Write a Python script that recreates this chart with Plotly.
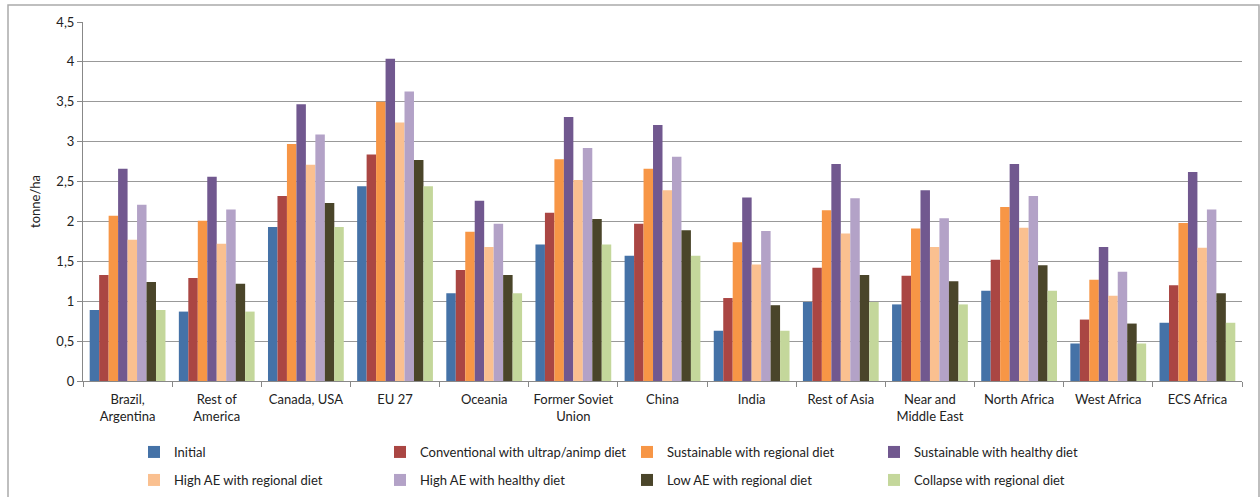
import plotly.graph_objects as go

regions = ["Brazil,<br>Argentina", "Rest of<br>America", "Canada, USA", "EU 27", "Oceania",
           "Former Soviet<br>Union", "China", "India", "Rest of Asia", "Near and<br>Middle East",
           "North Africa", "West Africa", "ECS Africa"]

initial =        [0.89, 0.87, 1.93, 2.44, 1.10, 1.71, 1.57, 0.63, 0.99, 0.96, 1.13, 0.47, 0.73]
conventional =   [1.33, 1.29, 2.32, 2.84, 1.39, 2.11, 1.97, 1.04, 1.42, 1.32, 1.52, 0.77, 1.20]
sust_regional =  [2.07, 2.01, 2.97, 3.50, 1.87, 2.78, 2.66, 1.74, 2.14, 1.91, 2.18, 1.27, 1.98]
sust_healthy =   [2.66, 2.56, 3.47, 4.04, 2.26, 3.31, 3.21, 2.30, 2.72, 2.39, 2.72, 1.68, 2.62]
highae_regional = [1.77, 1.72, 2.71, 3.24, 1.68, 2.52, 2.39, 1.46, 1.85, 1.68, 1.92, 1.07, 1.67]
highae_healthy = [2.21, 2.15, 3.09, 3.63, 1.97, 2.92, 2.81, 1.88, 2.29, 2.04, 2.32, 1.37, 2.15]
lowae_regional = [1.24, 1.22, 2.23, 2.77, 1.33, 2.03, 1.89, 0.95, 1.33, 1.25, 1.45, 0.72, 1.10]
collapse =       [0.89, 0.87, 1.93, 2.44, 1.10, 1.71, 1.57, 0.63, 0.99, 0.96, 1.13, 0.47, 0.73]

series_names = ["Initial", "Conventional with ultrap/animp diet", "Sustainable with regional diet",
                "Sustainable with healthy diet", "High AE with regional diet", "High AE with healthy diet",
                "Low AE with regional diet", "Collapse with regional diet"]
series_values = [initial, conventional, sust_regional, sust_healthy,
                 highae_regional, highae_healthy, lowae_regional, collapse]
colors = ["#4572A7", "#AA4643", "#F79646", "#71588F", "#FAC090", "#B3A2C7", "#4A452A", "#C4D79B"]

W, H = 1260, 497
ML, MR, MT, MB = 83, 18, 22, 116
pw, ph = W - ML - MR, H - MT - MB

def px_x(p):
    return (p - ML) / pw

def px_y(p):
    return (H - MB - p) / ph

font = "Lato, 'Open Sans', sans-serif"

# legend slot positions (pixel) : 4 columns x 2 rows
leg_cols = [134, 380, 627, 874]
leg_rows = [452, 480]

fig = go.Figure()
layout_legends = {}
for i, (name, vals, col) in enumerate(zip(series_names, series_values, colors)):
    lname = "legend" if i == 0 else f"legend{i+1}"
    fig.add_trace(go.Bar(x=regions, y=vals, name=name, marker=dict(color=col, line=dict(width=0)),
                         legend=lname))
    layout_legends[lname] = dict(
        xref="container", yref="container",
        x=leg_cols[i % 4] / W, y=1 - leg_rows[i // 4] / H,
        xanchor="left", yanchor="middle", orientation="h",
        bgcolor="rgba(0,0,0,0)", borderwidth=0, itemwidth=30,
        font=dict(family=font, size=13, color="#222"),
    )

fig.update_layout(
    width=W, height=H,
    margin=dict(l=ML, r=MR, t=MT, b=MB, autoexpand=False),
    paper_bgcolor="white", plot_bgcolor="white",
    barmode="group", bargap=0.15, bargroupgap=0,
    separators=", ",
    font=dict(family=font, size=12, color="#222"),
    showlegend=True,
    **layout_legends,
    xaxis=dict(
        type="category", tickson="boundaries", ticks="outside", ticklen=5, tickcolor="#888",
        showline=True, linecolor="#888", linewidth=1, showgrid=False, automargin=False,
        ticklabelstandoff=6,
        tickfont=dict(family=font, size=13, color="#222"),
    ),
    yaxis=dict(
        range=[0, 4.5], dtick=0.5, tick0=0, ticks="outside", ticklen=5, tickcolor="#888",
        showline=True, linecolor="#888", linewidth=1, automargin=False,
        showgrid=True, gridcolor="#999", gridwidth=1, zeroline=False,
        tickfont=dict(family=font, size=13, color="#222"),
        title=dict(text="tonne/ha", font=dict(family=font, size=13, color="#222"), standoff=12),
    ),
    shapes=[dict(type="rect", xref="paper", yref="paper",
                 x0=px_x(8), x1=px_x(1259), y0=px_y(505), y1=px_y(5),
                 line=dict(color="#AAAAAA", width=1.5), fillcolor="rgba(0,0,0,0)", layer="below")],
)

fig.write_html("out.html", config={"displayModeBar": False},
               post_script="document.body.style.margin='0';")
